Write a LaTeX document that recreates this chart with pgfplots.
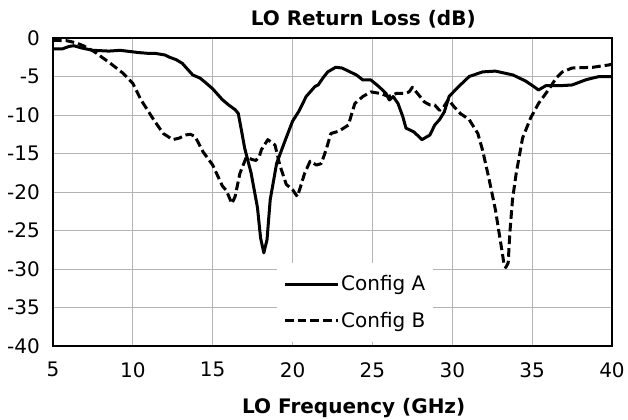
\documentclass[border=0pt]{standalone}
\usepackage{fontspec}
\setmainfont{DejaVu Sans}
\usepackage{pgfplots}
\pgfplotsset{compat=1.18}
\definecolor{gridgray}{HTML}{B4B4B4}
\begin{document}
\begin{tikzpicture}
\useasboundingbox (0,0) rectangle (471pt,314.25pt);
\begin{axis}[
  at={(39.75pt,54.75pt)}, anchor=south west,
  scale only axis, width=419.25pt, height=231pt,
  xmin=5, xmax=40, ymin=-40, ymax=0,
  xtick={5,10,...,40}, ytick={-40,-35,...,0},
  font=\fontsize{15}{18}\selectfont,
  /pgf/number format/assume math mode=true,
  grid=major,
  major grid style={gridgray, line width=0.75pt},
  axis line style={black, line width=1.9pt},
  major tick length=0pt,
  every x tick label/.append style={inner sep=0pt, yshift=-12pt},
  every y tick label/.append style={inner sep=0pt, xshift=-9.75pt},
  title={\bfseries LO Return Loss (dB)},
  title style={at={(0.555,1)}, anchor=base, yshift=3.5pt, inner sep=0pt},
  xlabel={\bfseries LO Frequency (GHz)},
  xlabel style={at={(0.538,0)}, anchor=base, yshift=-50.25pt, inner sep=0pt},
  legend style={at={(axis cs:19,-29.2)}, anchor=north west, draw=none, fill=white,
    inner xsep=5pt, inner ysep=8.5pt, row sep=12.5pt,
    nodes={inner sep=1pt, font=\fontsize{15}{18}\selectfont}},
  legend image code/.code={\draw[#1] (0pt,0pt) -- (40pt,0pt);},
  legend cell align=left,
]
\addplot[black, line width=2.25pt, line join=round] coordinates {
(5.0,-1.4) (5.6,-1.4) (6.0,-1.1) (6.3,-1.0) (6.8,-1.3) (7.5,-1.6) (8.5,-1.7)
(9.2,-1.6) (10.0,-1.8) (10.4,-1.9) (11.0,-2.0) (11.4,-2.0) (12.0,-2.2) (12.3,-2.5)
(12.7,-2.8) (13.1,-3.3) (13.4,-4.0) (13.75,-4.8) (14.2,-5.2) (14.5,-5.7) (15.0,-6.6)
(15.6,-8.0) (16.0,-8.7) (16.4,-9.3) (16.6,-9.8) (16.8,-12.0) (17.0,-14.3) (17.4,-17.5)
(17.8,-22.0) (18.0,-26.0) (18.2,-27.9) (18.4,-26.2) (18.6,-21.0) (19.0,-16.3)
(19.5,-13.5) (20.0,-10.8) (20.4,-9.5) (20.85,-7.6) (21.4,-6.3) (21.6,-6.1) (21.9,-5.2)
(22.2,-4.4) (22.7,-3.8) (23.1,-3.9) (23.6,-4.4) (24.0,-4.8) (24.4,-5.45) (24.9,-5.45)
(25.4,-6.3) (25.85,-7.2) (26.06,-8.05) (26.3,-7.6) (26.6,-8.5) (26.9,-10.2) (27.1,-11.7)
(27.3,-11.9) (27.6,-12.2) (28.1,-13.2) (28.6,-12.6) (28.9,-11.3) (29.2,-10.6)
(29.5,-9.6) (29.8,-7.6) (30.3,-6.5) (31.06,-5.0) (31.9,-4.4) (32.7,-4.3) (33.8,-4.8)
(34.6,-5.6) (35.1,-6.3) (35.4,-6.75) (35.85,-6.2) (36.7,-6.2) (37.5,-6.1) (38.4,-5.4)
(39.2,-5.0) (40.0,-5.0)
};
\addlegendentry{Config A}
\addplot[black, line width=2.25pt, line join=round, dash pattern=on 6.5pt off 3pt] coordinates {
(5.0,-0.3) (5.85,-0.35) (6.4,-0.6) (6.9,-1.0) (7.6,-1.8) (8.6,-3.3) (9.4,-4.6)
(10.0,-5.9) (10.5,-8.0) (11.3,-10.6) (11.9,-12.4) (12.5,-13.2) (12.9,-13.0)
(13.3,-12.6) (13.6,-12.5) (13.9,-12.8) (14.4,-14.8) (15.0,-16.5) (15.6,-19.2)
(15.85,-19.8) (16.2,-21.5) (16.4,-20.6) (16.7,-17.6) (17.1,-15.5) (17.5,-15.8)
(17.7,-15.9) (17.9,-15.5) (18.05,-14.5) (18.45,-13.2) (18.9,-13.9) (19.2,-16.5)
(19.6,-19.0) (20.0,-19.7) (20.3,-20.6) (20.5,-19.3) (20.75,-17.6) (21.1,-16.0)
(21.5,-16.5) (21.8,-16.3) (22.1,-14.5) (22.4,-12.4) (22.9,-12.1) (23.5,-11.3)
(23.65,-10.2) (23.9,-8.5) (24.4,-7.6) (24.9,-7.0) (25.5,-7.2) (26.0,-7.6) (26.5,-7.2)
(27.0,-7.2) (27.3,-7.0) (27.5,-6.4) (27.9,-7.4) (28.25,-8.3) (28.6,-8.7) (28.9,-8.7)
(29.2,-9.4) (29.45,-9.0) (29.75,-8.0) (30.1,-8.9) (30.5,-9.8) (31.06,-10.6)
(31.6,-12.4) (31.9,-14.6) (32.3,-18.3) (32.7,-22.3) (33.0,-26.2) (33.25,-29.5)
(33.35,-29.8) (33.5,-29.2) (33.6,-25.4) (33.77,-21.0) (34.0,-17.6) (34.4,-13.0)
(34.9,-10.4) (35.4,-8.5) (36.1,-6.5) (36.5,-5.2) (36.9,-4.4) (37.5,-3.9) (38.8,-3.8)
(39.8,-3.5) (40.0,-3.4)
};
\addlegendentry{Config B}
\end{axis}
\end{tikzpicture}
\end{document}
